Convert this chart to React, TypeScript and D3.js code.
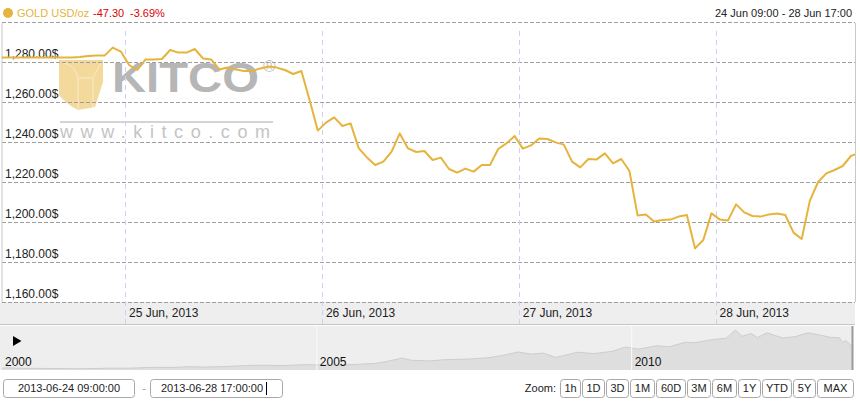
import * as d3 from "d3"

// main chart window
const chartStart = new Date(2013, 5, 24, 9, 0)
const chartEnd = new Date(2013, 5, 28, 17, 0)
const firstSample = new Date(2013, 5, 24, 9, 30)

const openPrice = 1282.2
const closePrice = 1233.8

// hourly prices, 24 Jun 09:30 .. 28 Jun 16:30
const hourlyPrices = [
  1282.2, 1282.2, 1282.2, 1282.2, 1282.2, 1282.2, 1282.2, 1282.3, 1282.3, 1282.5,
  1283.0, 1283.2, 1283.2, 1287.2, 1285.2, 1278.5, 1276.0, 1281.3, 1281.3, 1281.5,
  1286.0, 1284.7, 1284.7, 1286.5, 1281.8, 1281.3, 1276.3, 1277.2, 1276.3, 1275.5,
  1275.5, 1276.8, 1277.7, 1277.2, 1276.0, 1274.0, 1275.5, 1261.0, 1245.7, 1249.7,
  1252.3, 1248.0, 1249.3, 1236.8, 1232.3, 1228.5, 1230.2, 1235.2, 1244.3, 1236.8,
  1235.0, 1235.5, 1231.0, 1232.2, 1226.5, 1224.7, 1226.7, 1225.2, 1228.5, 1228.5,
  1236.5, 1239.3, 1243.0, 1236.7, 1238.3, 1241.8, 1241.5, 1239.8, 1238.7, 1230.2,
  1227.3, 1231.5, 1231.3, 1234.3, 1229.3, 1231.5, 1225.5, 1203.2, 1203.7, 1200.2,
  1201.0, 1201.2, 1202.7, 1203.5, 1186.8, 1191.0, 1204.3, 1201.3, 1200.7, 1208.8,
  1204.8, 1203.0, 1202.7, 1203.8, 1204.3, 1203.5, 1194.7, 1191.5, 1210.7, 1220.0,
  1224.3, 1226.0, 1228.0, 1233.0,
]

const priceTicks = [1160, 1180, 1200, 1220, 1240, 1260, 1280, 1300]
const labelledTicks = [1160, 1180, 1200, 1220, 1240, 1260, 1280]

// navigator history
const navYears = [
  2000.0, 2000.1, 2000.3, 2000.6, 2000.9, 2001.2, 2001.5, 2001.7, 2002.0, 2002.4,
  2002.7, 2003.0, 2003.2, 2003.6, 2003.9, 2004.2, 2004.4, 2004.8, 2005.0, 2005.5,
  2005.9, 2006.1, 2006.35, 2006.5, 2006.8, 2007.0, 2007.4, 2007.7, 2007.9, 2008.2,
  2008.4, 2008.6, 2008.8, 2009.0, 2009.15, 2009.4, 2009.7, 2009.9, 2010.1, 2010.4,
  2010.6, 2010.85, 2011.0, 2011.3, 2011.5, 2011.65, 2011.75, 2011.9, 2012.0, 2012.15,
  2012.4, 2012.6, 2012.8, 2013.0, 2013.15, 2013.3, 2013.35, 2013.4, 2013.5,
]
const navPrices = [
  288, 300, 280, 275, 268, 262, 268, 285, 282, 320,
  315, 350, 330, 360, 400, 410, 390, 430, 425, 430,
  480, 560, 710, 620, 590, 640, 670, 720, 800, 970,
  880, 920, 740, 870, 960, 900, 1000, 1180, 1090, 1230,
  1190, 1380, 1360, 1500, 1550, 1900, 1630, 1750, 1580, 1780,
  1560, 1620, 1780, 1680, 1590, 1570, 1380, 1450, 1220,
]
const navLabels = [2000, 2005, 2010]

const zoomButtons = ["1h", "1D", "3D", "1M", "60D", "3M", "6M", "1Y", "YTD", "5Y", "MAX"]
const buttonWidths = [20, 22, 22, 24, 29, 23, 24, 22, 29, 22, 36]

const W = 860
const H = 404
const font = "'Liberation Sans', Arial, sans-serif"
const gold = "#e6b43c"

export default function App() {
  const x = d3.scaleTime().domain([chartStart, chartEnd]).range([2, 855])
  const y = d3.scaleLinear().domain([1160, 1300]).range([302, 22])

  const points = [
    { t: chartStart, v: openPrice },
    ...hourlyPrices.map((v, i) => ({ t: d3.timeHour.offset(firstSample, i), v })),
    { t: chartEnd, v: closePrice },
  ]
  const line = d3
    .line<{ t: Date; v: number }>()
    .x((d) => x(d.t))
    .y((d) => y(d.v))

  const dayTicks = d3.timeDay.range(chartStart, chartEnd)
  const dayFmt = d3.timeFormat("%d %b, %Y")
  const priceFmt = d3.format(",.2f")

  const nx = d3.scaleLinear().domain([2000, 2013.5]).range([2, 852])
  const ny = d3.scaleLinear().domain([250, 1900]).range([369, 330])
  const navData = navYears.map((yr, i) => ({ yr, v: navPrices[i] }))
  const navArea = d3
    .area<{ yr: number; v: number }>()
    .x((d) => nx(d.yr))
    .y0(370)
    .y1((d) => ny(d.v))
  const navLine = d3
    .line<{ yr: number; v: number }>()
    .x((d) => nx(d.yr))
    .y((d) => ny(d.v))

  let bx = 560
  const buttons = zoomButtons.map((label, i) => {
    const b = { label, x: bx, w: buttonWidths[i] }
    bx += buttonWidths[i] + 2
    return b
  })

  return (
    <div style={{ position: "absolute", left: 0, top: 0 }}>
      <svg width={W} height={H} style={{ display: "block", fontFamily: font }}>
        <rect width={W} height={H} fill="#fff" />

        {/* watermark */}
        <g>
          <path
            d="M59,60 L103,60 L103,82 L95,107 L78,110 Q66,104 59,95 Z"
            fill="#f3d99c"
          />
          <path
            d="M62,62 Q76,66 78,78 L93,78 L101,63 M78,78 L78,110 M93,78 L93,107"
            fill="none"
            stroke="#f9ebc8"
            strokeWidth={1}
          />
          <text x={112} y={92} fontSize={43} fontWeight="bold" fill="#b6b6b6" textLength={147} lengthAdjust="spacingAndGlyphs">
            KITCO
          </text>
          <text x={263} y={72} fontSize={17} fill="#c4c4c4">®</text>
          <line x1={60} x2={273} y1={122} y2={122} stroke="#d4d4d4" strokeWidth={2} />
          <text x={60} y={138} fontSize={18} fill="#c4c4c4" textLength={210} lengthAdjust="spacing">
            www.kitco.com
          </text>
        </g>

        {/* axis band */}
        <rect x={0} y={302} width={855} height={23} fill="#eeeeee" />
        <line x1={0} x2={855} y1={324.5} y2={324.5} stroke="#c4c4c4" />

        {/* horizontal grid */}
        {priceTicks.map((v) => (
          <line
            key={v}
            x1={2}
            x2={855}
            y1={Math.round(y(v)) + 0.5}
            y2={Math.round(y(v)) + 0.5}
            stroke="#9e9e9e"
            strokeDasharray="4,2"
          />
        ))}

        {/* vertical day grid */}
        {dayTicks.map((d) => (
          <line
            key={+d}
            x1={Math.round(x(d)) + 0.5}
            x2={Math.round(x(d)) + 0.5}
            y1={31}
            y2={325}
            stroke="#cfcff5"
            strokeDasharray="5,4"
          />
        ))}

        <line x1={2} x2={2} y1={23} y2={302} stroke="#c8c8c8" />
        <line x1={855.5} x2={855.5} y1={23} y2={302} stroke="#c8c8c8" />

        {labelledTicks.map((v) => (
          <text key={v} x={5} y={y(v) - 4} fontSize={12} fill="#222">
            {priceFmt(v)}$
          </text>
        ))}

        {dayTicks.map((d) => (
          <text key={+d} x={x(d) + 4} y={317} fontSize={12} fill="#222">
            {dayFmt(d)}
          </text>
        ))}

        <path d={line(points) ?? ""} fill="none" stroke={gold} strokeWidth={2} strokeLinejoin="round" />

        {/* header */}
        <circle cx={8} cy={13} r={5} fill={gold} />
        <text x={17} y={17} fontSize={11} fill={gold}>GOLD USD/oz</text>
        <text x={93} y={17} fontSize={11} fill="#dd0000">-47.30</text>
        <text x={130} y={17} fontSize={11} fill="#dd0000">-3.69%</text>
        <text x={852} y={17} fontSize={11} fill="#222" textAnchor="end">
          24 Jun 09:00 - 28 Jun 17:00
        </text>

        {/* navigator */}
        <rect x={0} y={326} width={852} height={44} fill="#eeeeee" />
        <path d={navArea(navData) ?? ""} fill="#dedede" />
        <path d={navLine(navData) ?? ""} fill="none" stroke="#cdcdcd" strokeWidth={1} />
        {navLabels.slice(1).map((yr) => (
          <line key={yr} x1={nx(yr)} x2={nx(yr)} y1={326} y2={370} stroke="#fafafa" />
        ))}
        {navLabels.map((yr) => (
          <text key={yr} x={nx(yr) + 3} y={366} fontSize={12} fill="#111">
            {yr}
          </text>
        ))}
        <line x1={852.5} x2={852.5} y1={326} y2={370} stroke="#9a9a9a" strokeWidth={2} />
        <path d="M13,336 L21.5,341 L13,346 Z" fill="#000" />

        {/* range inputs */}
        <rect x={3.5} y={379.5} width={131} height={18} rx={3} fill="#fff" stroke="#a8a8a8" />
        <text x={69} y={392} fontSize={11} fill="#222" textAnchor="middle">2013-06-24 09:00:00</text>
        <text x={144} y={392} fontSize={11} fill="#999" textAnchor="middle">-</text>
        <rect x={150.5} y={379.5} width={132} height={18} rx={3} fill="#fff" stroke="#a8a8a8" />
        <text x={212} y={392} fontSize={11} fill="#222" textAnchor="middle">2013-06-28 17:00:00</text>
        <line x1={266.5} x2={266.5} y1={382} y2={395} stroke="#000" />

        {/* zoom buttons */}
        <text x={556} y={392} fontSize={11} fill="#222" textAnchor="end">Zoom:</text>
        {buttons.map((b) => (
          <g key={b.label}>
            <rect x={b.x + 0.5} y={379.5} width={b.w} height={18} rx={3} fill="#fff" stroke="#a8a8a8" />
            <text x={b.x + b.w / 2 + 0.5} y={392} fontSize={11} fill="#222" textAnchor="middle">
              {b.label}
            </text>
          </g>
        ))}
      </svg>
    </div>
  )
}
